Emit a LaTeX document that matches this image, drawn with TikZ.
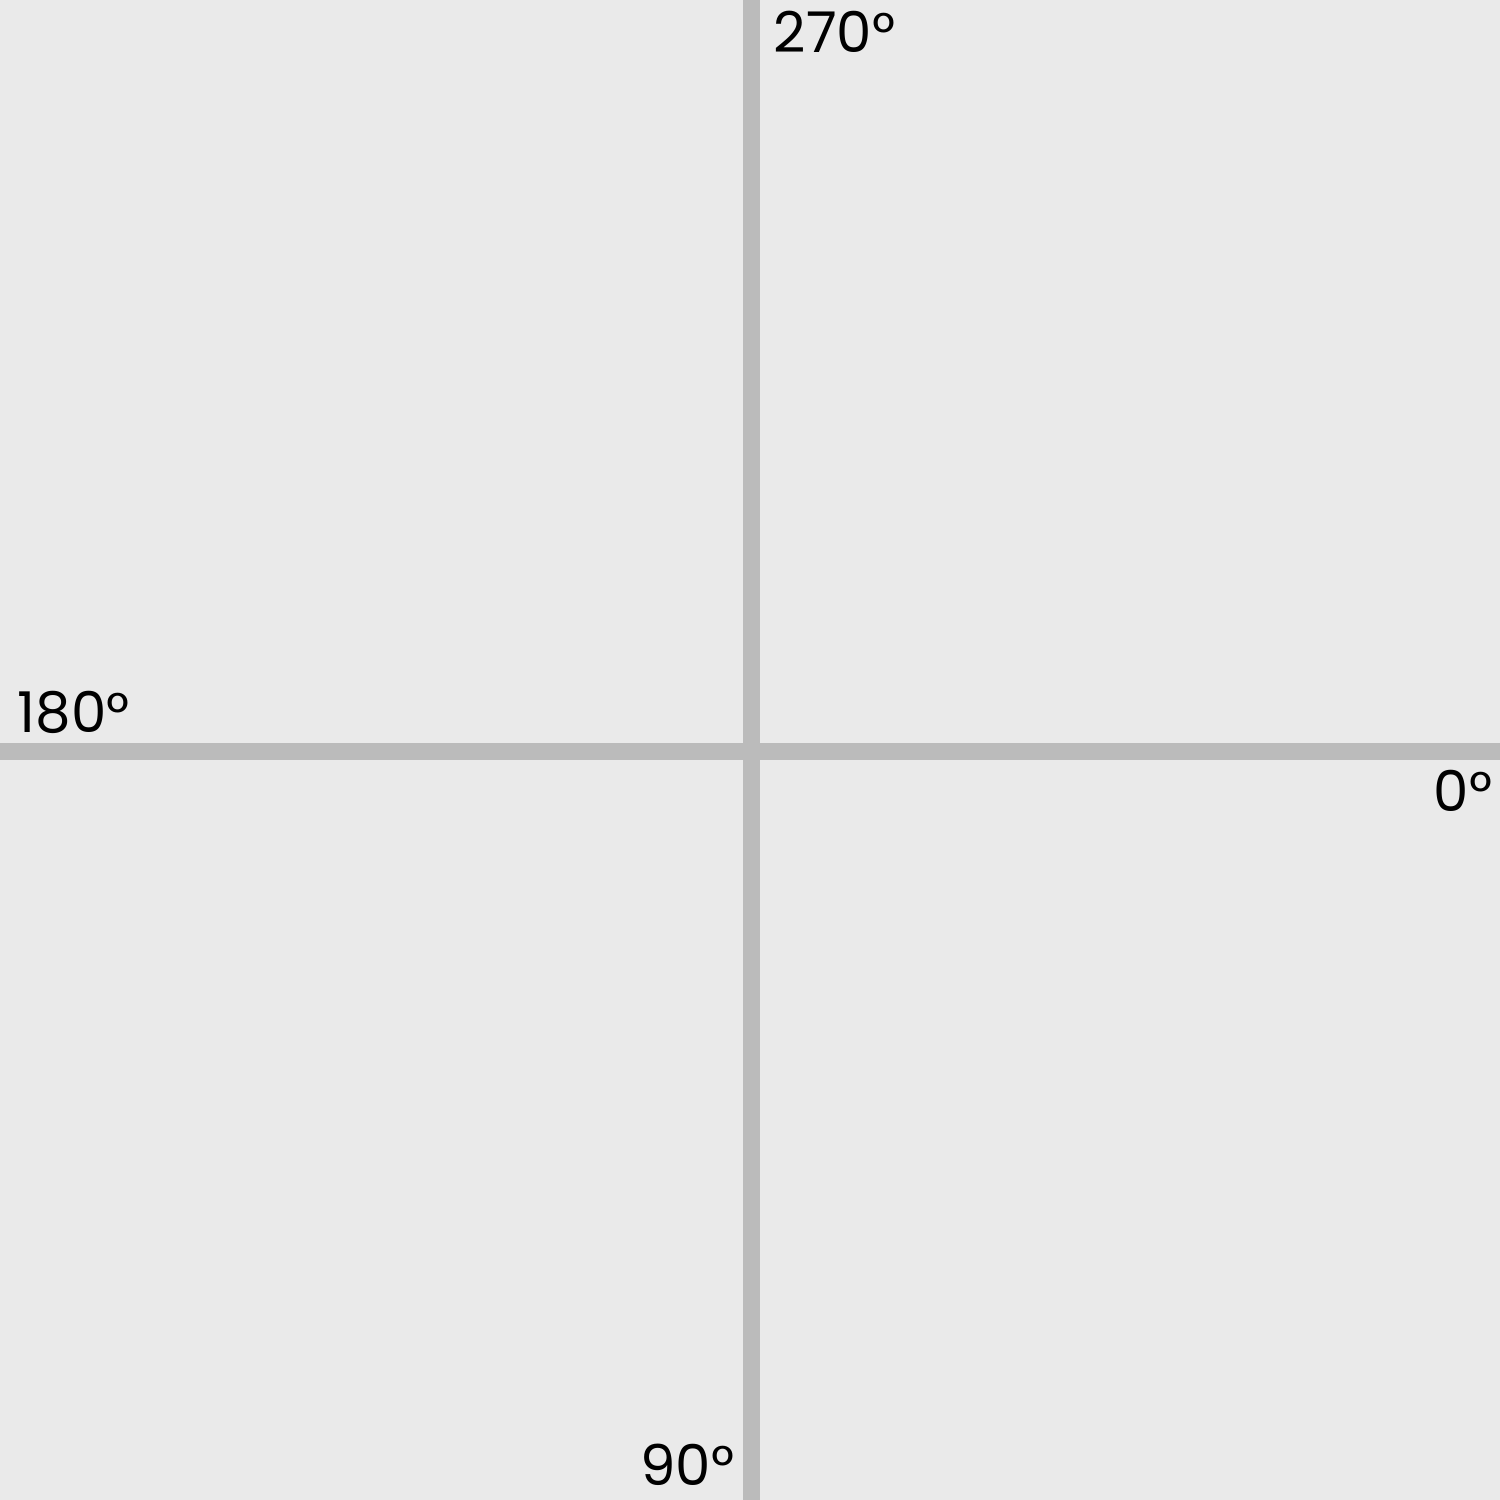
\documentclass[tikz,border=0pt]{standalone}
\usepackage{fontspec}
\setmainfont{Poppins}
\definecolor{bg}{HTML}{EAEAEA}
\definecolor{axis}{HTML}{BBBBBB}
\tikzset{
  axisline/.style={draw=axis, line width=4.6pt},
  deglabel/.style={inner sep=0pt, font=\fontsize{16}{19}\selectfont, text=black}
}
\begin{document}
\begin{tikzpicture}
\fill[bg] (0,0) rectangle (15,15);
\useasboundingbox (0,0) rectangle (15,15);
\coordinate (top) at (7.515,15);
\coordinate (bottom) at (7.515,0);
\coordinate (left) at (0,7.485);
\coordinate (right) at (15,7.485);
\draw[axisline] (top) -- (bottom);
\draw[axisline] (left) -- (right);
\node[deglabel, anchor=base west] (l270) at (7.73,14.47) {270°};
\node[deglabel, anchor=base west] (l180) at (0.17,7.67) {180°};
\node[deglabel, anchor=base east] (l0) at (14.93,6.88) {0°};
\node[deglabel, anchor=base east] (l90) at (7.35,0.15) {90°};
\end{tikzpicture}
\end{document}
